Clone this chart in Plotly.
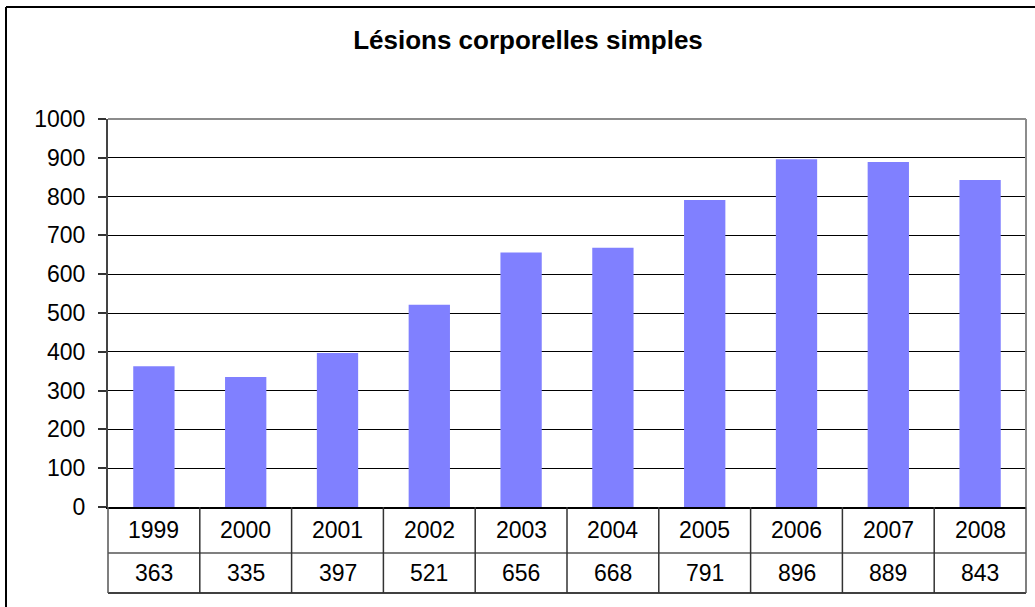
import plotly.graph_objects as go

years = ["1999", "2000", "2001", "2002", "2003", "2004", "2005", "2006", "2007", "2008"]
values = [363, 335, 397, 521, 656, 668, 791, 896, 889, 843]
y_ticks = [0, 100, 200, 300, 400, 500, 600, 700, 800, 900, 1000]
title_text = "Lésions corporelles simples"

W, H = 1035, 607
L, R, T, B = 108, 1026, 119, 507
PW, PH = R - L, B - T

def px(x):
    return (x - L) / PW

def py(y):
    return (B - y) / PH

FONT = "Liberation Sans, Arial, sans-serif"

fig = go.Figure()
fig.add_trace(go.Bar(
    x=list(range(len(years))), y=values, width=0.45,
    marker=dict(color="#8080FF", line=dict(width=0)),
    hovertext=years, hoverinfo="text+y",
))

shapes = []
# outer chart border (top and left visible)
shapes.append(dict(type="line", xref="paper", yref="paper", x0=px(6), x1=px(1040), y0=py(7), y1=py(7),
                   line=dict(color="#000000", width=2)))
shapes.append(dict(type="line", xref="paper", yref="paper", x0=px(6), x1=px(6), y0=py(7), y1=py(612),
                   line=dict(color="#000000", width=2)))
# plot-area top and right border (gray)
shapes.append(dict(type="line", xref="paper", yref="paper", x0=0, x1=1, y0=1, y1=1,
                   line=dict(color="#8c8c8c", width=2)))
shapes.append(dict(type="line", xref="paper", yref="paper", x0=1, x1=1, y0=0, y1=1,
                   line=dict(color="#8c8c8c", width=2)))
# data table
n = len(years)
y_row1 = py(553)
y_row2 = py(593)
shapes.append(dict(type="line", xref="paper", yref="paper", x0=0, x1=1, y0=y_row1, y1=y_row1,
                   line=dict(color="#7f7f7f", width=2)))
shapes.append(dict(type="line", xref="paper", yref="paper", x0=0, x1=1, y0=y_row2, y1=y_row2,
                   line=dict(color="#000000", width=1.5)))
for k in range(n + 1):
    xk = k / n
    col = "#333333" if 0 < k < n else "#555555"
    shapes.append(dict(type="line", xref="paper", yref="paper", x0=xk, x1=xk, y0=0, y1=y_row2,
                       line=dict(color=col, width=1.5)))

annotations = []
for i, (yr, v) in enumerate(zip(years, values)):
    annotations.append(dict(x=i, xref="x", y=py(530), yref="paper", text=yr, showarrow=False,
                            xanchor="center", yanchor="middle", font=dict(family=FONT, size=23, color="#000")))
    annotations.append(dict(x=i, xref="x", y=py(573), yref="paper", text=str(v), showarrow=False,
                            xanchor="center", yanchor="middle", font=dict(family=FONT, size=23, color="#000")))

fig.update_layout(
    width=W, height=H,
    margin=dict(l=L, r=W - R, t=T, b=H - B, pad=0),
    paper_bgcolor="white", plot_bgcolor="white",
    showlegend=False,
    bargap=0.55,
    title=dict(text="<b>" + title_text + "</b>", x=528 / W, xanchor="center", y=1 - 40 / H, yanchor="middle",
               font=dict(family=FONT, size=26, color="#000")),
    font=dict(family=FONT, size=23, color="#000"),
    shapes=shapes,
    annotations=annotations,
    xaxis=dict(range=[-0.5, n - 0.5], showticklabels=False, ticks="",
               showgrid=False, zeroline=False, showline=True, linecolor="#000", linewidth=2),
    yaxis=dict(range=[0, 1000], tickvals=y_ticks, ticks="outside", ticklen=8, tickcolor="#333",
               tickwidth=1.5, showgrid=True, gridcolor="#000", gridwidth=1, zeroline=False,
               showline=True, linecolor="#444", linewidth=2, ticklabelstandoff=8,
               tickfont=dict(family=FONT, size=23, color="#000")),
)

fig.write_html("out.html", config={"displayModeBar": False},
               post_script="document.body.style.margin='0';document.body.style.padding='0';")
